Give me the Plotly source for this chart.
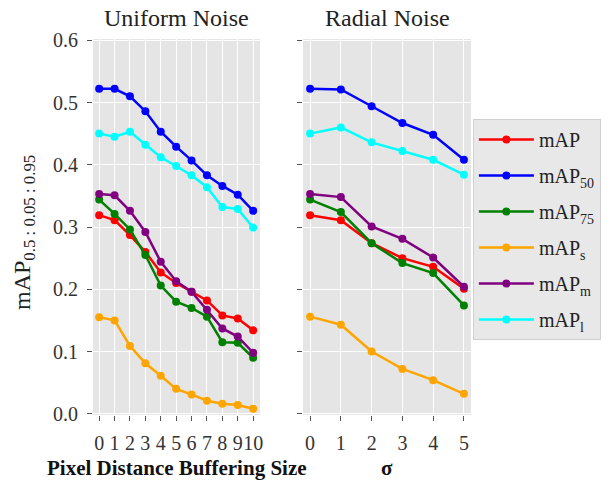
import plotly.graph_objects as go

uniform_x = [0, 1, 2, 3, 4, 5, 6, 7, 8, 9, 10]
radial_x = [0, 1, 2, 3, 4, 5]

series_names = ["mAP", "mAP<sub>50</sub>", "mAP<sub>75</sub>", "mAP<sub>s</sub>", "mAP<sub>m</sub>", "mAP<sub>l</sub>"]
colors = ["#FF0000", "#0000FF", "#008000", "#FFA500", "#800080", "#00FFFF"]

uniform_map = [0.319, 0.311, 0.287, 0.260, 0.227, 0.210, 0.196, 0.182, 0.158, 0.153, 0.134]
uniform_map50 = [0.522, 0.522, 0.510, 0.486, 0.453, 0.429, 0.407, 0.383, 0.366, 0.352, 0.326]
uniform_map75 = [0.344, 0.321, 0.296, 0.255, 0.206, 0.180, 0.170, 0.156, 0.115, 0.114, 0.090]
uniform_maps = [0.155, 0.150, 0.109, 0.081, 0.061, 0.040, 0.031, 0.021, 0.016, 0.014, 0.008]
uniform_mapm = [0.353, 0.351, 0.326, 0.292, 0.244, 0.213, 0.196, 0.167, 0.137, 0.124, 0.098]
uniform_mapl = [0.450, 0.445, 0.453, 0.432, 0.412, 0.398, 0.383, 0.364, 0.332, 0.329, 0.299]

radial_map = [0.319, 0.311, 0.274, 0.250, 0.236, 0.201]
radial_map50 = [0.522, 0.521, 0.494, 0.467, 0.448, 0.408]
radial_map75 = [0.344, 0.324, 0.274, 0.242, 0.226, 0.174]
radial_maps = [0.156, 0.143, 0.100, 0.072, 0.054, 0.032]
radial_mapm = [0.353, 0.348, 0.301, 0.281, 0.251, 0.204]
radial_mapl = [0.450, 0.460, 0.436, 0.422, 0.408, 0.384]

y_ticks = [0.0, 0.1, 0.2, 0.3, 0.4, 0.5, 0.6]
y_tick_labels = ["0.0", "0.1", "0.2", "0.3", "0.4", "0.5", "0.6"]

uniform_series = [uniform_map, uniform_map50, uniform_map75, uniform_maps, uniform_mapm, uniform_mapl]
radial_series = [radial_map, radial_map50, radial_map75, radial_maps, radial_mapm, radial_mapl]

SERIF = "Liberation Serif, Times New Roman, serif"
fig = go.Figure()
for i, (name, c) in enumerate(zip(series_names, colors)):
    fig.add_trace(go.Scatter(x=uniform_x, y=uniform_series[i], mode="lines+markers", name=name,
                             line=dict(color=c, width=2.5), marker=dict(color=c, size=8),
                             xaxis="x", yaxis="y", legendgroup=name, showlegend=True))
for i, (name, c) in enumerate(zip(series_names, colors)):
    fig.add_trace(go.Scatter(x=radial_x, y=radial_series[i], mode="lines+markers", name=name,
                             line=dict(color=c, width=2.5), marker=dict(color=c, size=8),
                             xaxis="x2", yaxis="y2", legendgroup=name, showlegend=False))

axis_common = dict(showgrid=True, gridcolor="white", gridwidth=1, zeroline=False,
                   ticks="outside", ticklen=5, tickcolor="#555555", showline=False,
                   tickangle=0, ticklabelstandoff=5,
                   tickfont=dict(family=SERIF, size=20, color="#333333"))

fig.update_layout(
    width=613, height=482,
    margin=dict(l=93, r=142, t=39, b=67),
    paper_bgcolor="white", plot_bgcolor="#E5E5E5",
    font=dict(family=SERIF, color="#222222"),
    xaxis=dict(domain=[0, 0.442], range=[-0.4, 10.45], tickvals=uniform_x,
               ticktext=[str(v) for v in uniform_x], **axis_common),
    xaxis2=dict(domain=[0.5556, 1], range=[-0.23, 5.23], tickvals=radial_x,
                ticktext=[str(v) for v in radial_x], **axis_common),
    yaxis=dict(range=[-0.002, 0.602], tickvals=y_ticks, ticktext=y_tick_labels, anchor="x", **axis_common),
    yaxis2=dict(range=[-0.002, 0.602], tickvals=y_ticks, showticklabels=False, anchor="x2", **axis_common),
    legend=dict(x=1.005, y=0.787, xanchor="left", yanchor="top", bgcolor="#E8E8E8",
                bordercolor="#D0D0D0", borderwidth=1, tracegroupgap=7, itemwidth=55,
                font=dict(family=SERIF, size=20, color="#222222")),
    annotations=[
        dict(text="Uniform Noise", x=0.221, y=1.0, xref="paper", yref="paper", yshift=21,
             xanchor="center", yanchor="middle", showarrow=False,
             font=dict(family=SERIF, size=24, color="#222222")),
        dict(text="Radial Noise", x=0.778, y=1.0, xref="paper", yref="paper", yshift=21,
             xanchor="center", yanchor="middle", showarrow=False,
             font=dict(family=SERIF, size=24, color="#222222")),
        dict(text="<b>Pixel Distance Buffering Size</b>", x=0.221, y=0, xref="paper", yref="paper", yshift=-39,
             xanchor="center", yanchor="top", showarrow=False,
             font=dict(family=SERIF, size=21, color="#111111")),
        dict(text="<b>σ</b>", x=0.778, y=0, xref="paper", yref="paper", yshift=-39,
             xanchor="center", yanchor="top", showarrow=False,
             font=dict(family=SERIF, size=21, color="#111111")),
        dict(text="mAP<sub>0.5 : 0.05 : 0.95</sub>", x=0, y=0.5, xref="paper", yref="paper",
             xshift=-69, yshift=-6,
             xanchor="center", yanchor="middle", textangle=-90, showarrow=False,
             font=dict(family=SERIF, size=24, color="#222222")),
    ],
)

fig.write_html("out.html", config={"displayModeBar": False},
               post_script="document.body.style.margin='0px';document.body.style.overflow='hidden';")
